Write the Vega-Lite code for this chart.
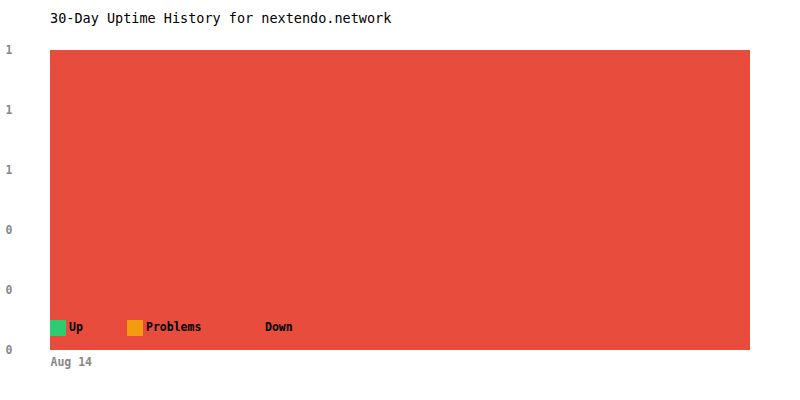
{
  "$schema": "https://vega.github.io/schema/vega-lite/v6.json",
  "width": 700,
  "height": 300,
  "autosize": "none",
  "padding": {"left": 50, "top": 50, "right": 50, "bottom": 50},
  "title": {
    "text": "30-Day Uptime History for nextendo.network",
    "anchor": "start",
    "frame": "group",
    "font": "DejaVu Sans Mono",
    "fontSize": 13.5,
    "fontWeight": "normal",
    "color": "#000",
    "offset": 19
  },
  "data": {"values": [
    {"date": "2024-08-14", "Up": 0, "Problems": 0, "Down": 1},
    {"date": "2024-08-15", "Up": 0, "Problems": 0, "Down": 1},
    {"date": "2024-08-16", "Up": 0, "Problems": 0, "Down": 1},
    {"date": "2024-08-17", "Up": 0, "Problems": 0, "Down": 1},
    {"date": "2024-08-18", "Up": 0, "Problems": 0, "Down": 1},
    {"date": "2024-08-19", "Up": 0, "Problems": 0, "Down": 1},
    {"date": "2024-08-20", "Up": 0, "Problems": 0, "Down": 1},
    {"date": "2024-08-21", "Up": 0, "Problems": 0, "Down": 1},
    {"date": "2024-08-22", "Up": 0, "Problems": 0, "Down": 1},
    {"date": "2024-08-23", "Up": 0, "Problems": 0, "Down": 1},
    {"date": "2024-08-24", "Up": 0, "Problems": 0, "Down": 1},
    {"date": "2024-08-25", "Up": 0, "Problems": 0, "Down": 1},
    {"date": "2024-08-26", "Up": 0, "Problems": 0, "Down": 1},
    {"date": "2024-08-27", "Up": 0, "Problems": 0, "Down": 1},
    {"date": "2024-08-28", "Up": 0, "Problems": 0, "Down": 1},
    {"date": "2024-08-29", "Up": 0, "Problems": 0, "Down": 1},
    {"date": "2024-08-30", "Up": 0, "Problems": 0, "Down": 1},
    {"date": "2024-08-31", "Up": 0, "Problems": 0, "Down": 1},
    {"date": "2024-09-01", "Up": 0, "Problems": 0, "Down": 1},
    {"date": "2024-09-02", "Up": 0, "Problems": 0, "Down": 1},
    {"date": "2024-09-03", "Up": 0, "Problems": 0, "Down": 1},
    {"date": "2024-09-04", "Up": 0, "Problems": 0, "Down": 1},
    {"date": "2024-09-05", "Up": 0, "Problems": 0, "Down": 1},
    {"date": "2024-09-06", "Up": 0, "Problems": 0, "Down": 1},
    {"date": "2024-09-07", "Up": 0, "Problems": 0, "Down": 1},
    {"date": "2024-09-08", "Up": 0, "Problems": 0, "Down": 1},
    {"date": "2024-09-09", "Up": 0, "Problems": 0, "Down": 1},
    {"date": "2024-09-10", "Up": 0, "Problems": 0, "Down": 1},
    {"date": "2024-09-11", "Up": 0, "Problems": 0, "Down": 1},
    {"date": "2024-09-12", "Up": 0, "Problems": 0, "Down": 1}
  ]},
  "transform": [
    {"fold": ["Up", "Problems", "Down"], "as": ["status", "share"]}
  ],
  "mark": {"type": "area", "interpolate": "linear"},
  "encoding": {
    "x": {
      "field": "date",
      "type": "temporal",
      "scale": {"type": "utc", "nice": false},
      "axis": {
        "title": null,
        "grid": false,
        "domain": false,
        "ticks": false,
        "values": [{"year": 2024, "month": "aug", "date": 14, "utc": true}],
        "labelExpr": "utcFormat(datum.value, '%b %d')",
        "labelAlign": "left",
        "labelPadding": 6,
        "labelFont": "DejaVu Sans Mono",
        "labelFontSize": 11.5,
        "labelFontWeight": "bold",
        "labelColor": "#888"
      }
    },
    "y": {
      "field": "share",
      "type": "quantitative",
      "stack": "zero",
      "scale": {"domain": [0, 1], "nice": false},
      "axis": {
        "title": null,
        "grid": false,
        "domain": false,
        "ticks": false,
        "values": [0, 0.2, 0.4, 0.6, 0.8, 1],
        "format": ".0f",
        "labelAlign": "left",
        "labelPadding": 45,
        "labelFont": "DejaVu Sans Mono",
        "labelFontSize": 11.5,
        "labelFontWeight": "bold",
        "labelColor": "#888"
      }
    },
    "color": {
      "field": "status",
      "type": "nominal",
      "scale": {
        "domain": ["Up", "Problems", "Down"],
        "range": ["#2ecc71", "#f39c12", "#e74c3c"]
      },
      "legend": {
        "title": null,
        "orient": "none",
        "legendX": 0,
        "legendY": 270,
        "direction": "horizontal",
        "symbolType": "square",
        "symbolSize": 256,
        "symbolStrokeWidth": 0,
        "symbolOpacity": 1,
        "columnPadding": 44,
        "labelFont": "DejaVu Sans Mono",
        "labelFontSize": 11.5,
        "labelFontWeight": "bold",
        "labelColor": "#000",
        "labelOffset": 3
      }
    },
    "order": {"field": "status", "sort": "ascending"}
  },
  "config": {
    "view": {"stroke": null}
  }
}
